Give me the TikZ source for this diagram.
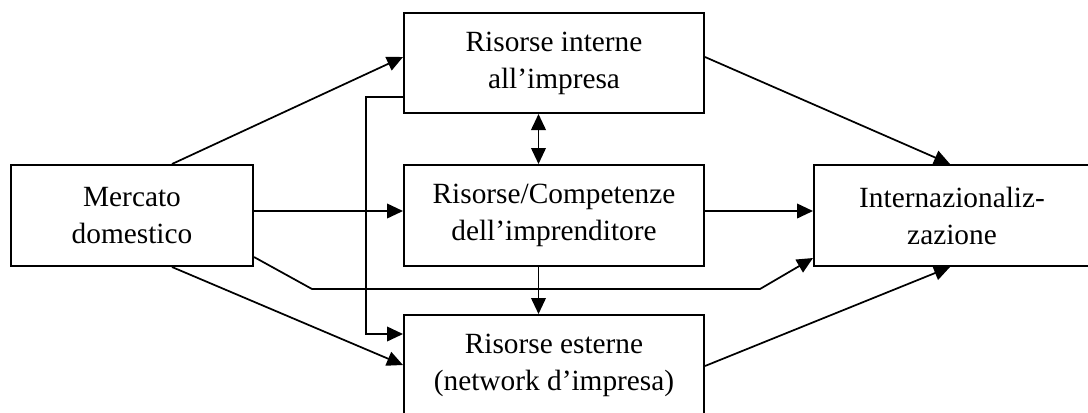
\documentclass[tikz,border=0pt]{standalone}
\usepackage{fontspec}
\setmainfont{Liberation Serif}
\usetikzlibrary{arrows.meta,calc}
\begin{document}
\begin{tikzpicture}[x=0.75pt,y=-0.75pt,
  box/.style={draw,line width=1.5pt,rectangle,align=center,inner sep=0pt,
    font=\fontsize{22}{27.75}\selectfont},
  conn/.style={line width=1.3pt,-{Triangle[length=12pt,width=11pt]}},
  bothconn/.style={line width=1.3pt,{Triangle[length=12pt,width=11pt]}-{Triangle[length=12pt,width=11pt]}}]
\useasboundingbox (0,0) rectangle (1088,412);
\clip (0,0) rectangle (1088,412);
\fill[white] (0,0) rectangle (1088,412);

% boxes
\node[box,minimum width=225pt,minimum height=75pt] (top) at (554,63) {Risorse interne\\all’impresa};
\node[box,minimum width=225pt,minimum height=75.75pt] (mid) at (554,215.5) {Risorse/Competenze\\dell’imprenditore};
\node[box,minimum width=225pt,minimum height=75.75pt] (bot) at (554,365.5) {Risorse esterne\\(network d’impresa)};
\node[box,minimum width=181.5pt,minimum height=75.75pt] (mkt) at (132,215.5) {Mercato\\domestico};
\node[box,minimum width=207pt,minimum height=75.75pt] (int) at (952,215.5) {Internazionaliz-\\zazione};

% bend points
\coordinate (k1) at (312,289);
\coordinate (k2) at (760,289);

% connectors
\draw[conn] ($(mkt.north)+(40,0)$) -- ($(top.west)+(0,-6)$);
\draw[conn] ($(mkt.east)+(0,-4.5)$) -- ($(mid.west)+(0,-4.5)$);
\draw[conn] ($(mkt.east)+(0,41.5)$) -- (k1) -- (k2) -- ($(int.west)+(0,42.5)$);
\draw[conn] ($(mkt.south)+(40,0)$) -- ($(bot.west)+(0,-0.5)$);
\draw[conn] ($(top.west)+(0,34)$) -- ++(-37,0) |- ($(bot.west)+(0,-31.5)$);
\draw[bothconn] ($(top.south)+(-15.5,0)$) -- ($(mid.north)+(-15.5,0)$);
\draw[conn] ($(mid.south)+(-15.5,0)$) -- ($(bot.north)+(-15.5,0)$);
\draw[conn] ($(mid.east)+(0,-4.5)$) -- ($(int.west)+(0,-4.5)$);
\draw[conn] ($(top.east)+(0,-6)$) -- ($(int.north)+(-2,0)$);
\draw[conn] ($(bot.east)+(0,0.5)$) -- ($(int.south)+(-2,0)$);
\end{tikzpicture}
\end{document}
